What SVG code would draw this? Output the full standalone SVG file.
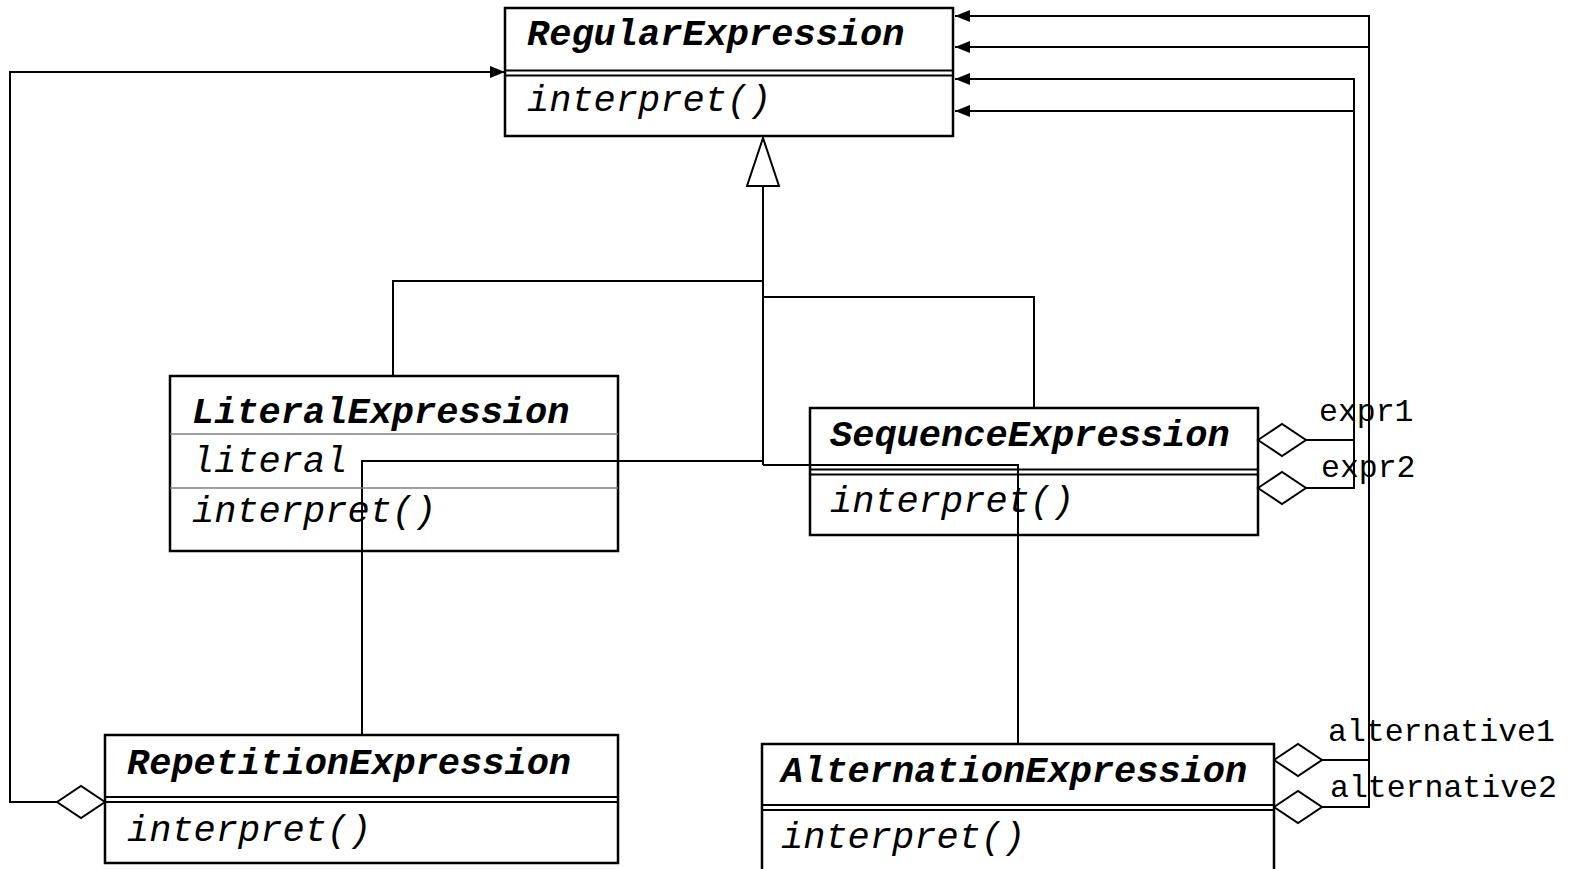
<svg xmlns="http://www.w3.org/2000/svg" width="1575" height="869" viewBox="0 0 1575 869">
<style>
.box{fill:#fff;stroke:#000;stroke-width:2.5}
.sep{stroke:#000;stroke-width:2}
.thin{stroke:#808080;stroke-width:1.5}
.title{font-family:"Liberation Mono",monospace;font-weight:bold;font-style:italic;font-size:37px;fill:#000}
.op{font-family:"Liberation Mono",monospace;font-style:italic;font-size:37px;fill:#000}
.role{font-family:"Liberation Mono",monospace;font-size:31.5px;fill:#000}
.ln{fill:none;stroke:#000;stroke-width:2}
.dia{fill:#fff;stroke:#000;stroke-width:2}
</style>
<defs>
<marker id="arr" markerWidth="16" markerHeight="14" refX="15" refY="7" orient="auto" markerUnits="userSpaceOnUse">
<path d="M0,1 L15,7 L0,13 Z" fill="#000"/>
</marker>
</defs>
<rect width="1575" height="869" fill="#fff"/>
<g id="connectors">
<path class="ln" d="M763,186 V465"/>
<path class="ln" d="M763,281 H393 V376"/>
<path class="ln" d="M763,297 H1034 V408"/>
<path class="ln" d="M763,461 H362 V735"/>
<path class="ln" d="M763,465 H1018 V744"/>
<polygon points="763,138 747,186 779,186" fill="#fff" stroke="#000" stroke-width="2"/>
<path class="ln" d="M57,802 H10 V72 H505" marker-end="url(#arr)"/>
<path class="ln" d="M1306,440 H1354 V111 H955" marker-end="url(#arr)"/>
<path class="ln" d="M1306,488 H1354 V79 H955" marker-end="url(#arr)"/>
<path class="ln" d="M1322,760 H1369 V47 H955" marker-end="url(#arr)"/>
<path class="ln" d="M1322,807 H1369 V16 H955" marker-end="url(#arr)"/>
<polygon class="dia" points="57,802 81,786 105,802 81,818"/>
<polygon class="dia" points="1258,440 1282,424 1306,440 1282,456"/>
<polygon class="dia" points="1258,488 1282,472 1306,488 1282,504"/>
<polygon class="dia" points="1274,760 1298,744 1322,760 1298,776"/>
<polygon class="dia" points="1274,807 1298,791 1322,807 1298,823"/>
<text class="role" x="1319" y="421">expr1</text>
<text class="role" x="1321" y="477">expr2</text>
<text class="role" x="1328" y="741">alternative1</text>
<text class="role" x="1330" y="797">alternative2</text>
</g>
<g id="RegularExpression">
<rect class="box" x="505" y="8" width="448" height="128"/>
<line class="sep" x1="505" y1="70.5" x2="953" y2="70.5"/>
<line class="sep" x1="505" y1="75.5" x2="953" y2="75.5"/>
<text class="title" x="527" y="45">RegularExpression</text>
<text class="op" x="527" y="111">interpret()</text>
</g>
<g id="LiteralExpression">
<rect class="box" x="170" y="376" width="448" height="175" style="fill:none"/>
<line class="thin" x1="170" y1="434" x2="618" y2="434"/>
<line class="thin" x1="170" y1="488" x2="618" y2="488"/>
<text class="title" x="192" y="423">LiteralExpression</text>
<text class="op" x="192" y="472">literal</text>
<text class="op" x="192" y="522">interpret()</text>
</g>
<g id="SequenceExpression">
<rect class="box" x="810" y="408" width="448" height="127" style="fill:none"/>
<line class="sep" x1="810" y1="469.5" x2="1258" y2="469.5"/>
<line class="sep" x1="810" y1="474.5" x2="1258" y2="474.5"/>
<text class="title" x="830" y="446">SequenceExpression</text>
<text class="op" x="830" y="512">interpret()</text>
</g>
<g id="RepetitionExpression">
<rect class="box" x="105" y="735" width="513" height="128"/>
<line class="sep" x1="105" y1="797" x2="618" y2="797"/>
<line class="sep" x1="105" y1="802" x2="618" y2="802"/>
<text class="title" x="127" y="774">RepetitionExpression</text>
<text class="op" x="127" y="841">interpret()</text>
</g>
<g id="AlternationExpression">
<rect class="box" x="762" y="744" width="512" height="140"/>
<line class="sep" x1="762" y1="805" x2="1274" y2="805"/>
<line class="sep" x1="762" y1="810" x2="1274" y2="810"/>
<text class="title" x="781" y="782">AlternationExpression</text>
<text class="op" x="781" y="848">interpret()</text>
</g>
</svg>
